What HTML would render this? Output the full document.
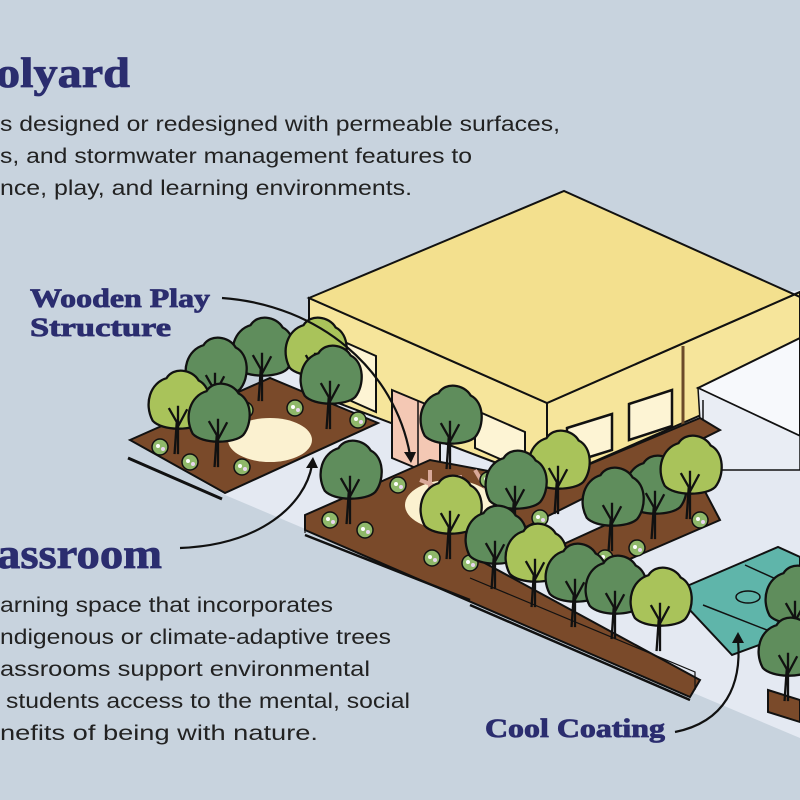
<!DOCTYPE html>
<html><head><meta charset="utf-8"><style>
html,body{margin:0;padding:0;background:#c8d3de;}
svg{display:block}
.h{font-family:"Liberation Serif",serif;font-weight:bold;fill:#2b2d6f;stroke:#2b2d6f;stroke-width:0.8}
.p{font-family:"Liberation Sans",sans-serif;fill:#222;font-size:21px}
</style></head><body>
<svg width="800" height="800" viewBox="0 0 800 800" xmlns="http://www.w3.org/2000/svg">
<defs>
<g id="td" transform="scale(1.15)"><path d="M-22,5 C-30,-10 -24,-28 -10,-32 C-4,-42 12,-40 18,-30 C30,-24 30,-4 22,6 C14,14 -14,14 -22,5Z" fill="#5f8d5c" stroke="#111" stroke-width="2"/><path d="M0,34 L0,-8 M0,8 L-8,-6 M0,10 L8,-5 M-3,34 L-1,5" stroke="#111" stroke-width="2" fill="none"/></g>
<g id="tl" transform="scale(1.15)"><path d="M-22,5 C-30,-10 -24,-28 -10,-32 C-4,-42 12,-40 18,-30 C30,-24 30,-4 22,6 C14,14 -14,14 -22,5Z" fill="#a9c35a" stroke="#111" stroke-width="2"/><path d="M0,34 L0,-8 M0,8 L-8,-6 M0,10 L8,-5 M-3,34 L-1,5" stroke="#111" stroke-width="2" fill="none"/></g>
<g id="sh"><circle r="8" fill="#8fb86a" stroke="#111" stroke-width="1.5"/><circle cx="-2" cy="-1" r="2" fill="#fff"/><circle cx="3" cy="2" r="2" fill="#e9d6f0"/></g>
</defs>
<rect width="800" height="800" fill="#c8d3de"/>
<polygon points="130,440 309,360 800,290 800,738 225,495" fill="#e4e9f2"/>
<polygon points="309,298 547,403 547,482 309,392" fill="#f6e59b" stroke="#111" stroke-width="2"/>
<polygon points="547,403 800,292 800,372 547,482" fill="#f6e59b" stroke="#111" stroke-width="2"/>
<polygon points="309,298 564,191 800,297 800,292 547,403" fill="#f3e08e" stroke="#111" stroke-width="2"/>
<polygon points="340,340 376,356 376,412 340,396" fill="#fdf4d4" stroke="#111" stroke-width="2"/>
<polygon points="392,390 440,410 440,478 392,458" fill="#f4c8b4" stroke="#111" stroke-width="2"/>
<line x1="418" y1="401" x2="418" y2="469" stroke="#111" stroke-width="1.5"/>
<polygon points="475,410 525,432 525,470 475,448" fill="#fdf4d4" stroke="#111" stroke-width="2"/>
<polygon points="567,428 612,414 612,450 567,464" fill="#fdf4d4" stroke="#111" stroke-width="2.5"/>
<polygon points="629,404 672,390 672,426 629,440" fill="#fdf4d4" stroke="#111" stroke-width="2.5"/>
<line x1="683" y1="346" x2="683" y2="430" stroke="#6b4a2a" stroke-width="3"/>
<rect x="661" y="432" width="16" height="22" rx="5" fill="#5aa9ad" stroke="#111" stroke-width="1.5"/>
<rect x="678" y="427" width="16" height="22" rx="5" fill="#5aa9ad" stroke="#111" stroke-width="1.5"/>
<polygon points="698,388 800,338 800,436" fill="#f7f9fc" stroke="#111" stroke-width="2"/>
<polygon points="698,388 800,436 800,470 703,470" fill="#e9edf4" stroke="#111" stroke-width="1.5"/>
<line x1="703" y1="400" x2="703" y2="470" stroke="#111" stroke-width="1.5"/>
<polygon points="130,440 270,378 378,423 225,493" fill="#7a4a2a" stroke="#111" stroke-width="2"/>
<ellipse cx="270" cy="440" rx="42" ry="22" fill="#fbf1d0"/>
<path d="M128,458 L222,499" stroke="#111" stroke-width="3"/>
<polygon points="305,515 430,460 547,482 700,418 720,430 560,510 470,555 700,680 690,697 305,530" fill="#7a4a2a" stroke="#111" stroke-width="2"/>
<ellipse cx="450" cy="505" rx="45" ry="25" fill="#fbf1d0"/>
<polygon points="555,548 700,482 720,520 600,572" fill="#7a4a2a" stroke="#111" stroke-width="2"/>
<path d="M305,535 L470,600 M470,605 L690,700" stroke="#111" stroke-width="2.5"/>
<g stroke="#d9a99a" stroke-width="4"><line x1="420" y1="480" x2="470" y2="500"/><line x1="430" y1="470" x2="430" y2="510"/><line x1="460" y1="475" x2="460" y2="515"/><line x1="475" y1="470" x2="490" y2="495"/></g>
<polygon points="673,592 778,547 800,557 800,630 732,655" fill="#5fb5aa" stroke="#111" stroke-width="2"/>
<line x1="703" y1="605" x2="800" y2="643" stroke="#111" stroke-width="1.5"/>
<line x1="745" y1="565" x2="800" y2="590" stroke="#111" stroke-width="1.5"/>
<ellipse cx="748" cy="597" rx="12" ry="6" fill="none" stroke="#111" stroke-width="1.5"/>
<polygon points="768,690 800,700 800,722 768,712" fill="#7a4a2a" stroke="#111" stroke-width="2"/>
<use href="#sh" x="245" y="410"/><use href="#sh" x="295" y="408"/><use href="#sh" x="358" y="420"/><use href="#sh" x="160" y="447"/><use href="#sh" x="242" y="467"/><use href="#sh" x="190" y="462"/>
<use href="#sh" x="330" y="520"/><use href="#sh" x="365" y="530"/><use href="#sh" x="398" y="485"/><use href="#sh" x="488" y="480"/><use href="#sh" x="540" y="518"/><use href="#sh" x="605" y="558"/><use href="#sh" x="637" y="548"/><use href="#sh" x="700" y="520"/><use href="#sh" x="432" y="558"/><use href="#sh" x="470" y="563"/>
<use href="#td" x="262" y="362"/><use href="#tl" x="315" y="362"/><use href="#td" x="215" y="382"/><use href="#td" x="330" y="390"/><use href="#tl" x="178" y="415"/><use href="#td" x="218" y="428"/>
<use href="#td" x="450" y="430"/><use href="#td" x="350" y="485"/><use href="#tl" x="558" y="475"/><use href="#td" x="515" y="495"/><use href="#tl" x="450" y="520"/>
<use href="#td" x="655" y="500"/><use href="#tl" x="690" y="480"/><use href="#td" x="612" y="512"/>
<use href="#td" x="495" y="550"/><use href="#tl" x="535" y="568"/><use href="#td" x="575" y="588"/><use href="#td" x="615" y="600"/><use href="#tl" x="660" y="612"/>
<use href="#td" x="795" y="610"/><use href="#td" x="788" y="662"/>
<path d="M305,520 L305,533 M470,578 L695,672 L695,690" stroke="#111" stroke-width="1.2" fill="none"/>
<g fill="none" stroke="#111" stroke-width="2.2">
<path d="M222,298 C320,305 395,370 410,455"/>
<path d="M180,548 C260,545 305,505 312,465"/>
<path d="M675,732 C725,722 742,685 738,640"/>
</g>
<polygon points="404,452 416,452 411,463" fill="#111"/>
<polygon points="306,468 318,468 313,457" fill="#111"/>
<polygon points="732,643 744,643 738,632" fill="#111"/>
<text class="h" x="-4" y="87" font-size="42" textLength="134" lengthAdjust="spacingAndGlyphs">olyard</text>
<text class="p" x="0" y="131" textLength="560" lengthAdjust="spacingAndGlyphs">s designed or redesigned with permeable surfaces,</text>
<text class="p" x="0" y="163" textLength="472" lengthAdjust="spacingAndGlyphs">s, and stormwater management features to</text>
<text class="p" x="0" y="195" textLength="412" lengthAdjust="spacingAndGlyphs">nce, play, and learning environments.</text>
<text class="h" x="30" y="307" font-size="26" textLength="180" lengthAdjust="spacingAndGlyphs">Wooden Play</text>
<text class="h" x="30" y="336" font-size="26" textLength="141" lengthAdjust="spacingAndGlyphs">Structure</text>
<text class="h" x="-3" y="568" font-size="42" textLength="165" lengthAdjust="spacingAndGlyphs">assroom</text>
<text class="p" x="0" y="612" textLength="333" lengthAdjust="spacingAndGlyphs">arning space that incorporates</text>
<text class="p" x="0" y="644" textLength="391" lengthAdjust="spacingAndGlyphs">ndigenous or climate-adaptive trees</text>
<text class="p" x="0" y="676" textLength="370" lengthAdjust="spacingAndGlyphs">assrooms support environmental</text>
<text class="p" x="6" y="708" textLength="404" lengthAdjust="spacingAndGlyphs">students access to the mental, social</text>
<text class="p" x="0" y="740" textLength="318" lengthAdjust="spacingAndGlyphs">nefits of being with nature.</text>
<text class="h" x="485" y="737" font-size="26" textLength="180" lengthAdjust="spacingAndGlyphs">Cool Coating</text>
</svg>
</body></html>
